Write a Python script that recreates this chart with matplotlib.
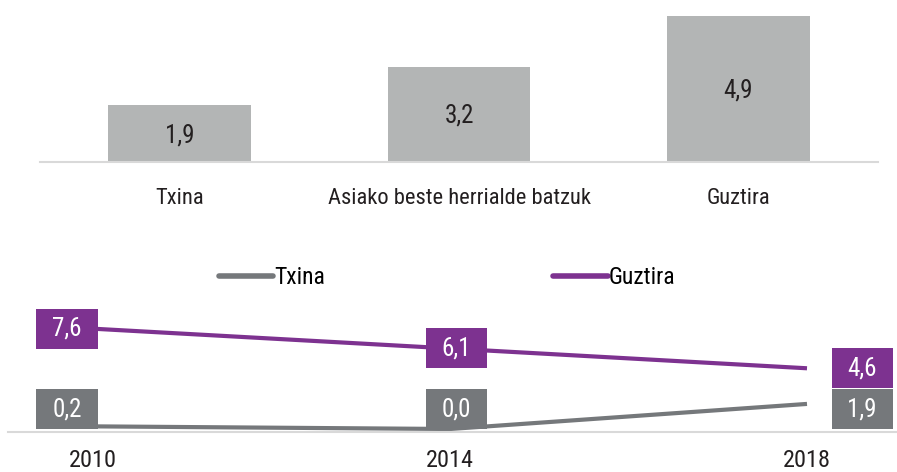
import matplotlib.pyplot as plt
from matplotlib.patches import Rectangle
from matplotlib.lines import Line2D

plt.rcParams['font.family'] = ['Roboto Condensed', 'DejaVu Sans Condensed',
                               'Liberation Sans Narrow', 'DejaVu Sans']
plt.rcParams['font.stretch'] = 'condensed'

# top chart data
bar_cats = ["Txina", "Asiako beste herrialde batzuk", "Guztira"]
bar_vals = [1.9, 3.2, 4.9]

# bottom chart data
years = ["2010", "2014", "2018"]
txina = [0.2, 0.0, 1.9]
guztira = [7.6, 6.1, 4.6]

BAR_GRAY = "#b3b5b5"
LINE_GRAY = "#75787b"
PURPLE = "#7d3290"
TXT = "#231f20"
AXIS = "#d9d9d9"


def fmt(v):
    return "{:.1f}".format(v).replace(".", ",")


fig = plt.figure(figsize=(8.97, 4.72), dpi=100)

# BAR CHART
ax1 = fig.add_axes([40/897, 1-162/472, 838/897, 162/472])
xs = range(len(bar_vals))
ax1.bar(xs, bar_vals, width=0.51, color=BAR_GRAY, zorder=2)
for x, v in zip(xs, bar_vals):
    ax1.text(x, v/2 - 0.05, fmt(v), ha="center", va="center", fontsize=18, color=TXT)
ax1.set_xlim(-0.5, 2.5)
ax1.set_ylim(0, 162/29.8)
ax1.set_xticks(list(xs))
ax1.set_xticklabels(bar_cats, fontsize=16.2, color=TXT)
ax1.tick_params(axis="x", length=0, pad=19)
ax1.set_yticks([])
for s in ["top", "left", "right"]:
    ax1.spines[s].set_visible(False)
ax1.spines["bottom"].set_color(AXIS)
ax1.spines["bottom"].set_linewidth(1.5)

# LINE CHART
px_x = 357.0   # pixels per category
px_y = 13.2    # pixels per unit
ax2 = fig.add_axes([8/897, 1-432/472, 889/897, 132/472])
ax2.set_xlim(-85/px_x, 2 + 90/px_x)
ax2.set_ylim(-3/px_y, 132/px_y - 3/px_y)

xi = list(range(len(years)))
ax2.plot(xi, txina, color=LINE_GRAY, lw=3, solid_capstyle="butt", zorder=2)
ax2.plot(xi, guztira, color=PURPLE, lw=3, solid_capstyle="butt", zorder=2)

bw = 61/px_x
bh = 40/px_y
label_dx = [-26/px_x, 6/px_x, 55/px_x]
txina_label_y = 1.5
for i in xi:
    for val, yc, col in [(guztira[i], guztira[i], PURPLE),
                         (txina[i], txina_label_y, LINE_GRAY)]:
        cx = i + label_dx[i]
        ax2.add_patch(Rectangle((cx - bw/2, yc - bh/2), bw, bh,
                                facecolor=col, edgecolor="none", zorder=3))
        ax2.text(cx, yc, fmt(val), ha="center", va="center",
                 fontsize=18, color="white", zorder=4)

ax2.set_xticks(xi)
ax2.set_xticklabels(years, fontsize=17.5, color=TXT)
ax2.tick_params(axis="x", length=0, pad=12)
ax2.set_yticks([])
for s in ["top", "left", "right"]:
    ax2.spines[s].set_visible(False)
ax2.spines["bottom"].set_color(AXIS)
ax2.spines["bottom"].set_linewidth(1.5)

handles = [Line2D([], [], color=LINE_GRAY, lw=4, solid_capstyle="round"),
           Line2D([], [], color=PURPLE, lw=4, solid_capstyle="round")]
fig.legend(handles, ["Txina", "Guztira"], ncol=2, frameon=False,
           loc="center left", bbox_to_anchor=(219/897, 1-278/472),
           fontsize=17, handlelength=2.3, handletextpad=0.05,
           columnspacing=9.65, borderaxespad=0, borderpad=0)

fig.savefig("out.png", dpi=100)
